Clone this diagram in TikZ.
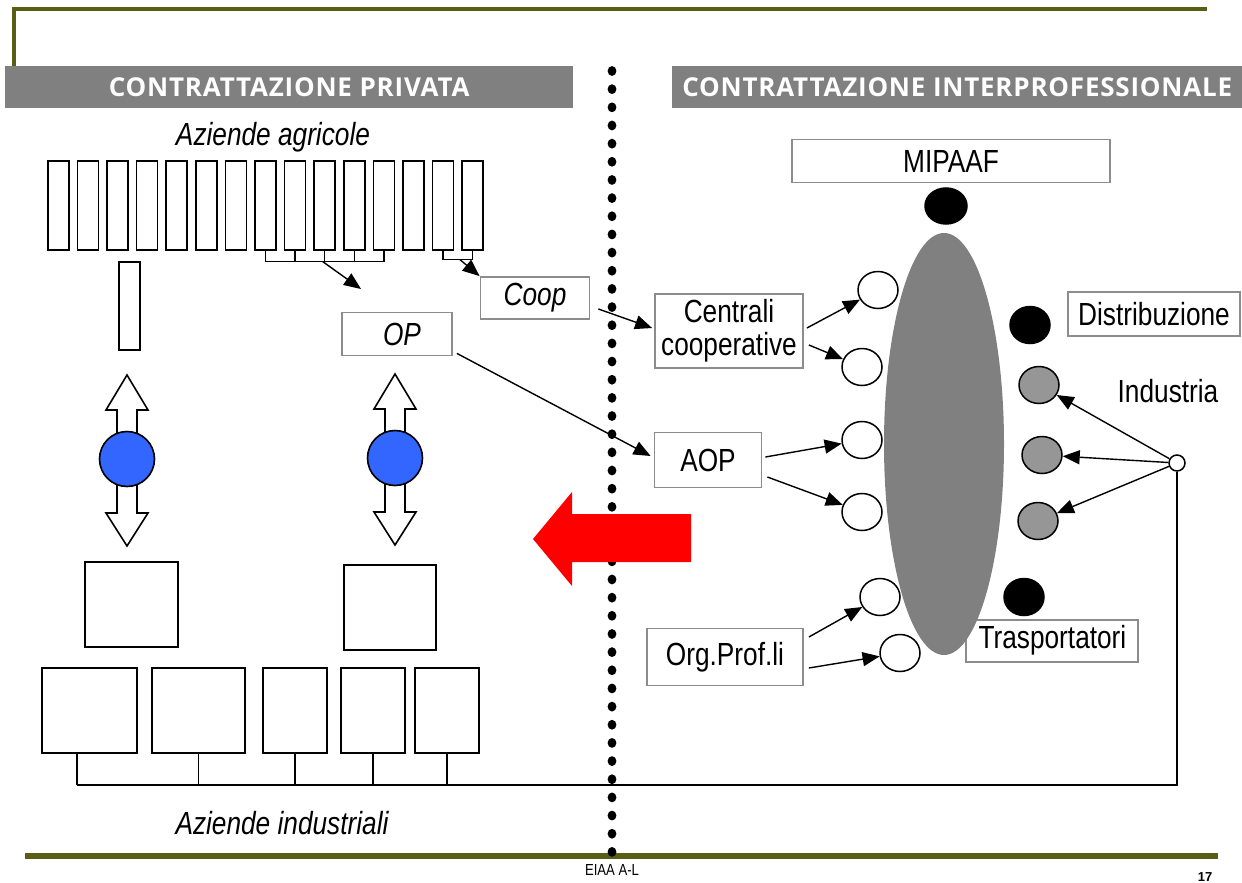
\documentclass[tikz,border=0pt]{standalone}
\usepackage{fontspec}
\setmainfont{Liberation Sans}
\newfontfamily\narrow[FakeStretch=0.82]{Liberation Sans}
\newfontfamily\headfont[LetterSpace=3]{Open Sans}
\usetikzlibrary{arrows.meta,shapes.geometric,calc}

\definecolor{olive}{RGB}{89,94,20}
\definecolor{hdrgray}{RGB}{128,128,128}
\definecolor{boxgray}{RGB}{140,140,140}
\definecolor{ovalgray}{RGB}{128,128,128}
\definecolor{dotgray}{RGB}{150,150,150}
\definecolor{blueball}{RGB}{51,102,255}

\tikzset{
  header/.style={fill=hdrgray, inner sep=0, anchor=north west, text=white,
    font=\headfont\bfseries\fontsize{26}{28}\selectfont},
  farm/.style={draw, line width=1.6pt, inner sep=0, anchor=north west,
    minimum width=21pt, minimum height=89pt},
  plant/.style={draw, line width=1.6pt, inner sep=0, anchor=north west},
  lbl/.style={font=\narrow\fontsize{32}{33}\selectfont},
  ilbl/.style={font=\narrow\itshape\fontsize{32}{33}\selectfont},
  gbox/.style={draw=boxgray, line width=1.8pt, inner sep=0, fill=white},
  ball/.style={ellipse, draw, line width=1.5pt, minimum width=40pt, minimum height=37pt, inner sep=0},
  arr/.style={line width=1.4pt, -{Triangle[length=17pt,width=14pt]}},
  link/.style={line width=1.4pt},
  dbl/.style={draw, line width=1.6pt, fill=white, line join=miter},
}

\begin{document}
\begin{tikzpicture}[x={(1pt,0)}, y={(0,-1pt)}]
\useasboundingbox (0,0) rectangle (1242,883);
\fill[white] (0,0) rectangle (1242,883);

% frame lines
\draw[olive, line width=4pt] (14,95) -- (14,9) -- (1207,9);
\draw[olive, line width=6pt] (25,856) -- (1218,856);

% section headers
\node[header, minimum width=568pt, minimum height=42pt] (hp) at (5,66) {CONTRATTAZIONE PRIVATA};
\node[header, minimum width=570pt, minimum height=42pt] (hi) at (672,66) {CONTRATTAZIONE INTERPROFESSIONALE};

% dotted divider
\foreach \k in {0,...,43}
  \fill (612,{71+18.16*\k}) ellipse [x radius=4.4pt, y radius=4.9pt];

% ---------------- left: private contracting ----------------
\node[ilbl] (agr) at (273,137) {Aziende agricole};
\foreach \i in {0,...,14}
  \node[farm] (f\i) at ({47+29.6*\i},160) {};

% grouping brackets under the farms
\path (f9.south) ++(0,11) coordinate (br1);
\draw[link] (f7.south) |- (br1) -| (f11.south);
\foreach \k in {8,9,10} \draw[link] (f\k.south) -- (f\k.south |- br1);
\path ($(f13.south)!0.5!(f14.south)$) ++(0,9) coordinate (br2);
\draw[link] (f13.south) |- (br2) -| (f14.south);

\node[gbox, minimum width=109pt, minimum height=42pt, ilbl] (coop) at (535,298) {Coop};
\node[gbox, minimum width=110pt, minimum height=43pt, ilbl] (op) at (397,334) {\hspace{10pt}OP};

\coordinate (opin) at (361,289);
\draw[arr] ($(br1)+(-2,0)$) -- (opin);
\draw[arr] ($(br2)+(2,0)$) -- (coop.north west);

% single farm
\node[farm, minimum height=88pt] (single) at (118,261) {};

% two-way arrows with the blue balls
\foreach \cx/\n/\ty in {127/L/375, 395/R/374} {
  \path[dbl] (\cx,\ty) -- ++(21,35) -- ++(-11,0) -- ++(0,103) -- ++(11,0)
     -- (\cx,{\ty+171}) -- ++(-21,-33) -- ++(11,0) -- ++(0,-103) -- ++(-11,0) -- cycle;
  \node[circle, draw, line width=1.6pt, fill=blueball, minimum size=55pt, inner sep=0] (b\n) at (\cx,{\ty+84}) {};
}

% processing plants
\node[plant, minimum width=93pt, minimum height=85pt] (sqL) at (84,561) {};
\node[plant, minimum width=92pt, minimum height=85pt] (sqR) at (343,564) {};
\node[plant, minimum width=95pt, minimum height=85pt] (i1) at (41,667) {};
\node[plant, minimum width=93pt, minimum height=85pt] (i2) at (151,667) {};
\node[plant, minimum width=64pt, minimum height=85pt] (i3) at (262,667) {};
\node[plant, minimum width=64pt, minimum height=85pt] (i4) at (340,667) {};
\node[plant, minimum width=64pt, minimum height=85pt] (i5) at (414,667) {};

\node[ilbl] (ind) at (282,823) {Aziende industriali};

% ---------------- right: interprofessional contracting ----------------
\node[gbox, minimum width=318pt, minimum height=43pt, lbl] (mip) at (951,161) {MIPAAF};
\node[draw=boxgray, line width=1.8pt, minimum width=172pt, minimum height=42pt, inner sep=0] (tra) at (1052,641) {};
\node[ellipse, fill=ovalgray, minimum width=120pt, minimum height=422pt, inner sep=0] (oval) at (944,444) {};
\node[lbl, anchor=west] (tral) at (975,640) {Trasportatori};

\node[ball, fill=black, minimum width=42pt, minimum height=36pt] (m1) at (946,206) {};
\node[ball, fill=white] (c1) at (878,290) {};
\node[ball, fill=white] (c2) at (862,367) {};
\node[ball, fill=white] (c3) at (862,440) {};
\node[ball, fill=white] (c4) at (862,512) {};
\node[ball, fill=white] (c5) at (880,597) {};
\node[ball, fill=white] (c6) at (900,653) {};
\node[ball, fill=black] (d1) at (1030,325) {};
\node[ball, fill=dotgray] (g1) at (1039,385) {};
\node[ball, fill=dotgray] (g2) at (1042,455) {};
\node[ball, fill=dotgray] (g3) at (1038,521) {};
\node[ball, fill=black] (t1) at (1024,597) {};

\node[gbox, minimum width=148pt, minimum height=74pt, lbl, align=center] (cent) at (729,331) {Centrali\\cooperative};
\node[gbox, minimum width=107pt, minimum height=55pt, lbl] (aop) at (708,460) {AOP};
\node[gbox, minimum width=156pt, minimum height=57pt, lbl] (org) at (725,657) {Org.Prof.li};
\node[gbox, minimum width=172pt, minimum height=44pt, lbl] (dis) at (1154,314) {Distribuzione};
\node[lbl] (indl) at (1168,391) {Industria};
\node[circle, draw, line width=1.5pt, fill=white, minimum size=16pt, inner sep=0] (hub) at (1177,463) {};

% industrial bus line
\coordinate (busL) at (77,785);
\draw[link] (hub.south) |- (busL);
\draw[link] (i1.south -| busL) -- (busL);
\foreach \b in {i2,i3,i4,i5} \draw[link] (\b.south) -- (\b.south |- busL);

% connectors
\draw[arr] ($(coop.east)+(8,11)$) -- ($(cent.west)+(-2,-3)$);
\draw[arr] ($(op.south east)+(4,-3)$) -- ($(aop.west)+(-3,-4)$);
\draw[arr] ($(cent.east)+(3,-3)$) -- (c1);
\draw[arr] ($(cent.east)+(5,14)$) -- (c2);
\draw[arr] ($(aop.east)+(3,-3)$) -- (c3);
\draw[arr] ($(aop.east)+(5,17)$) -- (c4);
\draw[arr] ($(org.east)+(5,-20)$) -- (c5);
\draw[arr] ($(org.east)+(5,11)$) -- (c6);
\draw[arr] (hub) -- (g1);
\draw[arr] (hub) -- (g2);
\draw[arr] (hub) -- (g3);

% big red arrow
\fill[red] (533,539) -- (572,492) -- (572,514) -- (691,514) -- (691,562) -- (572,562) -- (572,586) -- cycle;

% footer
\node[font=\narrow\fontsize{16}{17}\selectfont] (foot) at (612,870) {EIAA A-L};
\node[font=\fontsize{13}{14}\selectfont\bfseries, anchor=south, inner sep=1pt] (pg) at (1205,883) {17};
\end{tikzpicture}
\end{document}
